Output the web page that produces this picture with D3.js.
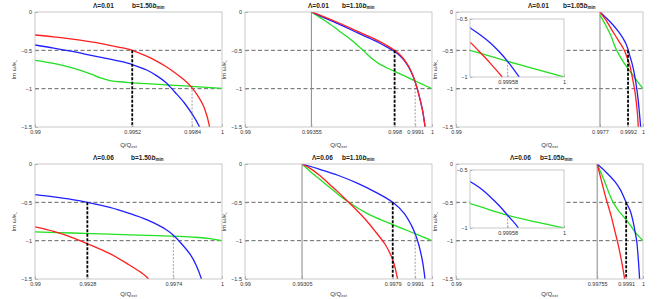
<!DOCTYPE html>
<html>
<head>
<meta charset="utf-8">
<script src="https://cdn.jsdelivr.net/npm/d3@7"></script>
<style>
body { margin: 0; background: #fff; }
text { font-family: "Liberation Sans", Arial, sans-serif; }
</style>
</head>
<body>
<svg width="657" height="299"></svg>
<script>
// ---- values ----
const lambdas = ["0.01", "0.01", "0.01", "0.06", "0.06", "0.06"];
const bFactors = ["1.50", "1.10", "1.05", "1.50", "1.10", "1.05"];
const yTicks = [0, -0.5, -1, -1.5];
const xTicks = [
  [0.99, 0.9952, 0.9984, 1],
  [0.99, 0.99355, 0.998, 0.9991, 1],
  [0.99, 0.9977, 0.9992, 1],
  [0.99, 0.9928, 0.9974, 1],
  [0.99, 0.99305, 0.9979, 0.9991, 1],
  [0.99, 0.99755, 0.9991, 1]
];
const startQ = [null, 0.99355, 0.9977, null, 0.99305, 0.99755];
const blackQ = [0.9952, 0.998, 0.9992, 0.9928, 0.9979, 0.9991];
const thinMark = [[0.9984, -0.97], [0.9991, -0.9], null, [0.9974, -0.94], [0.9991, -0.91], null];
const insetTicks = [0.99958, 1];
const insetYTicks = [-0.5, -1];
const insetMark = [null, null, [0.99958, -0.865], null, null, [0.99958, -0.89]];

// panel 1: Lambda=0.01, b=1.50
const p1Red = [[0.99,-0.30],[0.991,-0.325],[0.992,-0.355],[0.993,-0.39],[0.994,-0.435],[0.995,-0.485],[0.9952,-0.50],[0.996,-0.58],[0.9965,-0.64],[0.997,-0.71],[0.9975,-0.795],[0.998,-0.89],[0.9984,-0.99],[0.9987,-1.09],[0.999,-1.22],[0.9992,-1.36],[0.9993,-1.46],[0.99935,-1.53]];
const p1Blue = [[0.99,-0.43],[0.991,-0.47],[0.992,-0.515],[0.993,-0.565],[0.994,-0.615],[0.995,-0.67],[0.9952,-0.685],[0.996,-0.76],[0.9965,-0.83],[0.997,-0.92],[0.9972,-0.97],[0.9975,-1.05],[0.998,-1.19],[0.9984,-1.33],[0.9988,-1.5],[0.9989,-1.56]];
const p1Green = [[0.99,-0.63],[0.991,-0.67],[0.992,-0.73],[0.993,-0.81],[0.9935,-0.86],[0.994,-0.895],[0.9945,-0.91],[0.995,-0.92],[0.996,-0.935],[0.997,-0.95],[0.998,-0.963],[0.999,-0.98],[1.0,-0.995]];
// panel 2: Lambda=0.01, b=1.10
const p2Red = [[0.99355,0],[0.994,-0.04],[0.995,-0.14],[0.996,-0.25],[0.997,-0.36],[0.9975,-0.425],[0.998,-0.50],[0.9983,-0.56],[0.9986,-0.65],[0.9988,-0.73],[0.999,-0.84],[0.9991,-0.91],[0.9992,-0.99],[0.9994,-1.18],[0.9995,-1.29],[0.99963,-1.5],[0.9997,-1.62]];
const p2Blue = [[0.99355,0],[0.994,-0.05],[0.995,-0.155],[0.996,-0.27],[0.997,-0.38],[0.9975,-0.445],[0.998,-0.515],[0.9983,-0.575],[0.9986,-0.66],[0.9988,-0.74],[0.999,-0.845],[0.9991,-0.915],[0.9992,-0.99],[0.9994,-1.18],[0.9995,-1.29],[0.99963,-1.5],[0.9997,-1.62]];
const p2Green = [[0.99355,0],[0.994,-0.07],[0.9945,-0.15],[0.995,-0.24],[0.9955,-0.33],[0.996,-0.43],[0.9964,-0.52],[0.9968,-0.61],[0.9972,-0.68],[0.9976,-0.73],[0.998,-0.775],[0.9985,-0.83],[0.9991,-0.90],[0.9995,-0.945],[1.0,-1.0]];
// panel 3: Lambda=0.01, b=1.05
const p3Red = [[0.9977,0],[0.998,-0.10],[0.9984,-0.26],[0.99868,-0.37],[0.999,-0.50],[0.99913,-0.58],[0.9993,-0.70],[0.99936,-0.77],[0.99945,-0.88],[0.99954,-1.0],[0.9996,-1.09],[0.9997,-1.32],[0.99975,-1.5],[0.99978,-1.6]];
const p3Blue = [[0.9977,0],[0.998,-0.07],[0.9984,-0.17],[0.9987,-0.26],[0.9989,-0.33],[0.9991,-0.42],[0.9992,-0.49],[0.9993,-0.575],[0.99938,-0.64],[0.99945,-0.705],[0.99952,-0.785],[0.99958,-0.865],[0.99962,-0.925],[0.99966,-0.99],[0.99972,-1.1],[0.99978,-1.24],[0.99984,-1.4],[0.99988,-1.52]];
const p3Green = [[0.9977,-0.04],[0.998,-0.17],[0.9983,-0.32],[0.9985,-0.45],[0.9987,-0.55],[0.999,-0.67],[0.9993,-0.77],[0.99958,-0.865],[1.0,-1.0]];
// panel 4: Lambda=0.06, b=1.50
const p4Red = [[0.99,-0.82],[0.991,-0.88],[0.992,-0.96],[0.9928,-1.04],[0.994,-1.17],[0.995,-1.31],[0.9957,-1.42],[0.996,-1.48],[0.9962,-1.55]];
const p4Blue = [[0.99,-0.40],[0.991,-0.43],[0.992,-0.465],[0.9928,-0.50],[0.994,-0.565],[0.995,-0.64],[0.996,-0.73],[0.997,-0.855],[0.9974,-0.93],[0.9978,-1.03],[0.9983,-1.18],[0.9986,-1.31],[0.9989,-1.5],[0.99895,-1.55]];
const p4Green = [[0.99,-0.885],[0.992,-0.90],[0.994,-0.915],[0.996,-0.93],[0.9974,-0.94],[0.9985,-0.955],[0.9992,-0.97],[1.0,-1.0]];
// panel 5: Lambda=0.06, b=1.10
const p5Red = [[0.99305,0],[0.9935,-0.06],[0.994,-0.15],[0.9945,-0.26],[0.995,-0.37],[0.9955,-0.49],[0.996,-0.61],[0.9965,-0.74],[0.997,-0.89],[0.9975,-1.05],[0.9979,-1.25],[0.9982,-1.55]];
const p5Blue = [[0.99305,0],[0.994,-0.07],[0.995,-0.15],[0.996,-0.25],[0.997,-0.37],[0.9979,-0.50],[0.9985,-0.64],[0.9989,-0.80],[0.9991,-0.91],[0.9993,-1.06],[0.9995,-1.28],[0.99965,-1.55]];
const p5Green = [[0.99305,0],[0.9935,-0.10],[0.994,-0.20],[0.9945,-0.30],[0.995,-0.40],[0.9955,-0.49],[0.996,-0.57],[0.9965,-0.64],[0.997,-0.70],[0.9975,-0.75],[0.9979,-0.79],[0.9985,-0.85],[0.9991,-0.91],[0.9995,-0.95],[1.0,-1.0]];
// panel 6: Lambda=0.06, b=1.05
const p6Red = [[0.99755,0],[0.9978,-0.24],[0.998,-0.43],[0.9983,-0.68],[0.9985,-0.88],[0.9987,-1.08],[0.9989,-1.33],[0.99905,-1.55]];
const p6Blue = [[0.99755,0],[0.998,-0.10],[0.9985,-0.23],[0.9988,-0.34],[0.9991,-0.50],[0.9993,-0.60],[0.99938,-0.66],[0.99945,-0.73],[0.99952,-0.81],[0.99958,-0.89],[0.99966,-1.0],[0.99972,-1.15],[0.99978,-1.35],[0.99983,-1.55]];
const p6Green = [[0.99755,0],[0.9979,-0.20],[0.9982,-0.39],[0.99838,-0.49],[0.9987,-0.61],[0.999,-0.70],[0.9993,-0.79],[0.99958,-0.89],[0.9998,-0.95],[0.9999,-0.975],[1.0,-1.0]];

const series = [
  [p1Green, p1Blue, p1Red],
  [p2Green, p2Blue, p2Red],
  [p3Green, p3Blue, p3Red],
  [p4Green, p4Blue, p4Red],
  [p5Green, p5Blue, p5Red],
  [p6Green, p6Blue, p6Red]
];
const colors = ["#22e022", "#1f1fff", "#ff1f1f"];

// ---- layout ----
const svg = d3.select("svg");
const W = 187, H = 115;
const lefts = [35, 245, 456, 35, 245, 456];
const tops = [12, 12, 12, 164, 164, 164];
const xLabelOff = [19.5, 19.5, 19.5, 16.5, 16.5, 16.5];
const titleLx = [93, 308, 528, 93, 312, 510];
const titleBx = [132, 342, 563, 131, 342, 540];
const hasInset = [false, false, true, false, false, true];
const insetBox = {x: 14, w: 94, h: 58};
const insetTop = [7, 7, 7, 6, 6, 6];

const fmt = v => String(v).replace("-", "\u2212");

function styleAxis(g) {
  g.select(".domain").remove();
  g.selectAll(".tick line").attr("stroke", "#999").attr("stroke-width", 0.6);
  g.selectAll(".tick text").attr("fill", "#333").attr("font-size", 5.5)
    .attr("font-family", "Liberation Sans, Arial, sans-serif");
}

series.forEach(function(ser, i) {
  const x = d3.scaleLinear().domain([0.99, 1]).range([0, W]);
  const y = d3.scaleLinear().domain([-1.5, 0]).range([H, 0]);
  const g = svg.append("g").attr("transform", "translate(" + lefts[i] + "," + tops[i] + ")");

  g.append("clipPath").attr("id", "clip" + i)
    .append("rect").attr("width", W).attr("height", H);

  // reference dashed levels
  [-0.5, -1].forEach(function(v) {
    g.append("line")
      .attr("x1", 0).attr("x2", W).attr("y1", y(v)).attr("y2", y(v))
      .attr("stroke", "#555").attr("stroke-width", 0.9).attr("stroke-dasharray", "4,2.5");
  });

  // vertical line where the modes start
  if (startQ[i] !== null) {
    g.append("line")
      .attr("x1", x(startQ[i])).attr("x2", x(startQ[i])).attr("y1", 0).attr("y2", H)
      .attr("stroke", "#888").attr("stroke-width", 1);
  }

  const line = d3.line().x(d => x(d[0])).y(d => y(d[1])).curve(d3.curveCatmullRom.alpha(0.5));
  const curves = g.append("g").attr("clip-path", "url(#clip" + i + ")");
  ser.forEach(function(s, k) {
    curves.append("path").datum(s)
      .attr("d", line).attr("fill", "none")
      .attr("stroke", colors[k]).attr("stroke-width", 1.3);
  });

  // black dashed marker
  g.append("line")
    .attr("x1", x(blackQ[i])).attr("x2", x(blackQ[i])).attr("y1", y(-0.5)).attr("y2", H)
    .attr("stroke", "#000").attr("stroke-width", 1.8).attr("stroke-dasharray", "3,1.5");

  // thin dashed marker
  if (thinMark[i]) {
    g.append("line")
      .attr("x1", x(thinMark[i][0])).attr("x2", x(thinMark[i][0]))
      .attr("y1", y(thinMark[i][1])).attr("y2", H)
      .attr("stroke", "#777").attr("stroke-width", 0.7).attr("stroke-dasharray", "2,1.5");
  }

  // frame and axes
  g.append("rect").attr("width", W).attr("height", H)
    .attr("fill", "none").attr("stroke", "#bbb").attr("stroke-width", 0.8);
  g.append("g").attr("transform", "translate(0," + H + ")")
    .call(d3.axisBottom(x).tickValues(xTicks[i]).tickFormat(fmt).tickSizeInner(-3).tickSizeOuter(0).tickPadding(3.5))
    .call(styleAxis);
  g.append("g")
    .call(d3.axisLeft(y).tickValues(yTicks).tickFormat(fmt).tickSizeInner(-3).tickSizeOuter(0).tickPadding(3))
    .call(styleAxis);

  // inset
  if (hasInset[i]) {
    const ix = d3.scaleLinear().domain([0.9993, 1]).range([0, insetBox.w]);
    const iy = d3.scaleLinear().domain([-1, -0.5]).range([insetBox.h, 0]);
    const ig = g.append("g").attr("transform", "translate(" + insetBox.x + "," + insetTop[i] + ")");
    ig.append("rect").attr("width", insetBox.w).attr("height", insetBox.h).attr("fill", "#fff");
    ig.append("clipPath").attr("id", "iclip" + i)
      .append("rect").attr("width", insetBox.w).attr("height", insetBox.h);
    const iline = d3.line().x(d => ix(d[0])).y(d => iy(d[1])).curve(d3.curveCatmullRom.alpha(0.5));
    const ic = ig.append("g").attr("clip-path", "url(#iclip" + i + ")");
    ser.forEach(function(s, k) {
      ic.append("path").datum(s)
        .attr("d", iline).attr("fill", "none")
        .attr("stroke", colors[k]).attr("stroke-width", 1.3);
    });
    if (insetMark[i]) {
      ig.append("line")
        .attr("x1", ix(insetMark[i][0])).attr("x2", ix(insetMark[i][0]))
        .attr("y1", iy(insetMark[i][1])).attr("y2", insetBox.h)
        .attr("stroke", "#777").attr("stroke-width", 0.7).attr("stroke-dasharray", "2,1.5");
    }
    ig.append("rect").attr("width", insetBox.w).attr("height", insetBox.h)
      .attr("fill", "none").attr("stroke", "#bbb").attr("stroke-width", 0.8);
    ig.append("g").attr("transform", "translate(0," + insetBox.h + ")")
      .call(d3.axisBottom(ix).tickValues(insetTicks).tickFormat(fmt).tickSizeInner(-2.5).tickSizeOuter(0).tickPadding(3))
      .call(styleAxis);
    ig.append("g")
      .call(d3.axisLeft(iy).tickValues(insetYTicks).tickFormat(fmt).tickSizeInner(-2.5).tickSizeOuter(0).tickPadding(2.5))
      .call(styleAxis);
  }

  // title
  const ty = tops[i] - 4.5;
  svg.append("text").attr("x", titleLx[i]).attr("y", ty)
    .attr("font-size", 6.5).attr("font-weight", "bold").attr("fill", "#222")
    .text("\u039b=" + lambdas[i]);
  const bt = svg.append("text").attr("x", titleBx[i]).attr("y", ty)
    .attr("font-size", 6.5).attr("font-weight", "bold").attr("fill", "#222");
  bt.append("tspan").text("b=" + bFactors[i]);
  bt.append("tspan").attr("font-style", "italic").text("b");
  bt.append("tspan").attr("font-size", 4.5).attr("dy", 1.5).text("min");

  // axis labels
  const xl = svg.append("text").attr("x", lefts[i] + W / 2).attr("y", tops[i] + H + xLabelOff[i])
    .attr("text-anchor", "middle").attr("font-size", 6).attr("fill", "#333");
  xl.append("tspan").text("Q/Q");
  xl.append("tspan").attr("font-size", 4.2).attr("dy", 1.2).text("ext");

  const yl = svg.append("text")
    .attr("transform", "translate(" + (lefts[i] - 19) + "," + (tops[i] + H / 2) + ") rotate(-90)")
    .attr("text-anchor", "middle").attr("font-size", 6).attr("fill", "#333");
  yl.append("tspan").text("Im \u03c9/\u03ba");
  yl.append("tspan").attr("font-size", 4.2).attr("dy", 1.5).text("\u2212");
});
</script>
</body>
</html>
